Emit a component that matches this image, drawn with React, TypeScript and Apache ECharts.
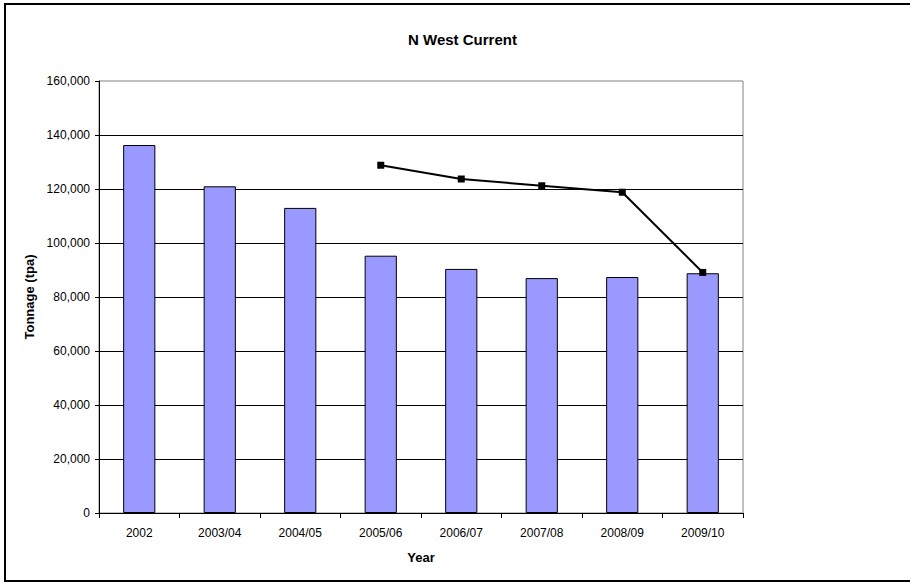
import React, { useEffect, useRef } from "react";
import * as echarts from "echarts";

const categories = ["2002", "2003/04", "2004/05", "2005/06", "2006/07", "2007/08", "2008/09", "2009/10"];
const barValues = [136300, 121000, 113000, 95300, 90400, 87000, 87400, 88800];
const lineValues = [null, null, null, 128800, 123700, 121200, 118800, 89100];
const yTicks = { min: 0, max: 160000, interval: 20000 };

const FONT = "Arial, 'Liberation Sans', sans-serif";

export default function App() {
  const ref = useRef<HTMLDivElement>(null);
  useEffect(() => {
    if (!ref.current) return;
    const chart = echarts.init(ref.current, undefined, { renderer: "svg" });
    chart.setOption({
      animation: false,
      backgroundColor: "#ffffff",
      textStyle: { fontFamily: FONT },
      title: {
        text: "N West Current",
        left: 403,
        top: 27,
        textStyle: { fontSize: 15, fontWeight: "bold", color: "#000", fontFamily: FONT },
      },
      graphic: [
        {
          type: "rect",
          shape: { x: 5, y: 4, width: 920, height: 577 },
          style: { fill: "none", stroke: "#000", lineWidth: 2 },
          silent: true,
        },
      ],
      grid: {
        left: 99,
        top: 81,
        right: 167,
        bottom: 69,
        show: true,
        borderColor: "#808080",
        borderWidth: 1,
        backgroundColor: "transparent",
      },
      xAxis: {
        type: "category",
        data: categories,
        name: "Year",
        nameLocation: "middle",
        nameGap: 38,
        nameTextStyle: { fontSize: 13, fontWeight: "bold", color: "#000", fontFamily: FONT },
        axisLine: { lineStyle: { color: "#000", width: 1 } },
        axisTick: { show: true, alignWithLabel: false, length: 5, lineStyle: { color: "#000" } },
        axisLabel: { fontSize: 12, color: "#000", margin: 14, fontFamily: FONT },
        splitLine: { show: false },
      },
      yAxis: {
        type: "value",
        min: yTicks.min,
        max: yTicks.max,
        interval: yTicks.interval,
        name: "Tonnage (tpa)",
        nameLocation: "middle",
        nameGap: 56,
        nameTextStyle: { fontSize: 13, fontWeight: "bold", color: "#000", fontFamily: FONT },
        axisLine: { show: true, lineStyle: { color: "#000", width: 1 } },
        axisTick: { show: true, length: 4, lineStyle: { color: "#000" } },
        axisLabel: {
          fontSize: 12,
          color: "#000",
          margin: 9,
          fontFamily: FONT,
          formatter: (v: number) => v.toLocaleString("en-US"),
        },
        splitLine: { show: true, showMinLine: false, showMaxLine: false, lineStyle: { color: "#000", width: 1 } },
      },
      series: [
        {
          type: "bar",
          data: barValues,
          barWidth: "40%",
          itemStyle: { color: "#9999FF", borderColor: "#000", borderWidth: 1 },
        },
        {
          type: "line",
          data: lineValues,
          symbol: "rect",
          symbolSize: 7,
          connectNulls: false,
          lineStyle: { color: "#000", width: 2 },
          itemStyle: { color: "#000" },
          z: 5,
        },
      ],
    });
    return () => chart.dispose();
  }, []);
  return (
    <div
      ref={ref}
      style={{ position: "fixed", left: 0, top: 0, width: 910, height: 582 }}
    />
  );
}
